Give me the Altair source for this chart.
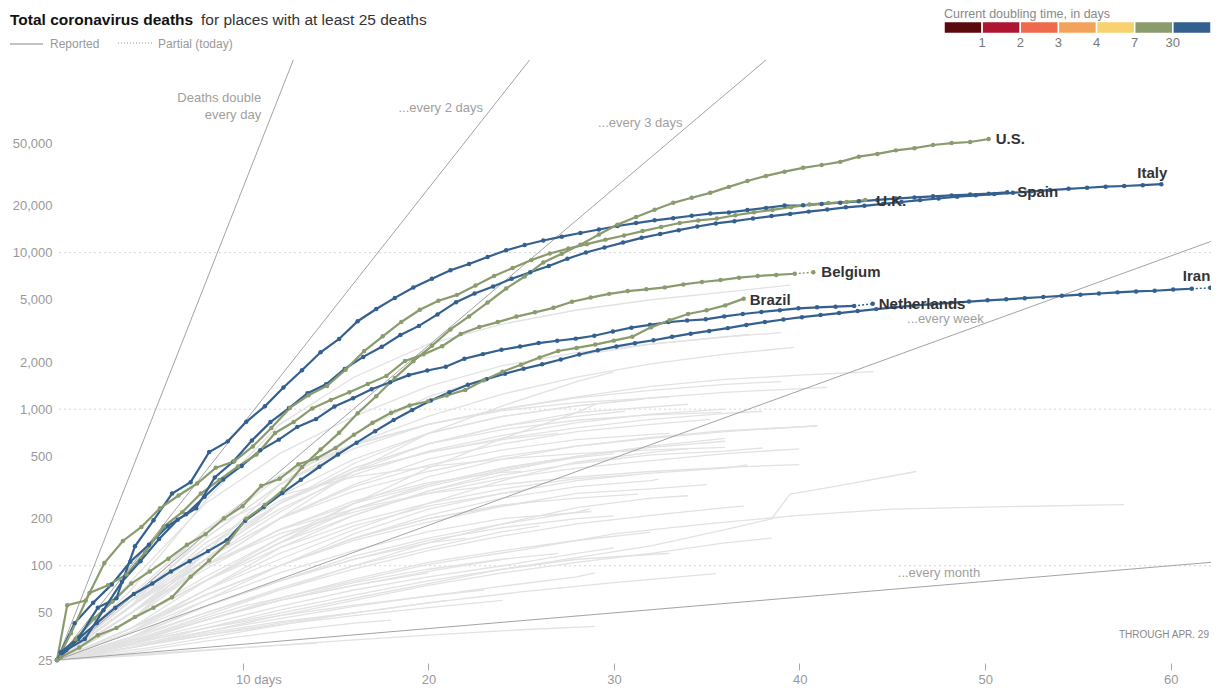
import math
from bisect import bisect_right
import altair as alt
import pandas as pd

FONT = "Liberation Sans"

# ---------------- highlighted places (cumulative deaths, one value per day) -------------
US = [26, 30, 36, 40, 47, 54, 63, 85, 108, 140, 200, 244, 307, 427, 552, 706, 942, 1209,
      1581, 2026, 2540, 3230, 3910, 4800, 5900, 7040, 8650, 9850, 11250, 13050, 15100, 16900,
      18800, 20800, 22400, 24100, 26300, 28700, 30900, 32900, 34800, 36300, 38000, 41000,
      42700, 45000, 46500, 48700, 50100, 50900, 53200]
UK = [56, 60, 104, 144, 177, 233, 281, 335, 422, 465, 578, 759, 1019, 1228, 1408, 1789, 2352,
      2921, 3605, 4313, 4934, 5373, 6159, 7097, 7978, 8958, 9875, 10612, 11329, 12107, 12868,
      13729, 14576, 15464, 16060, 16509, 17337, 18100, 18738, 19506, 20319, 20732, 21092, 21678]
SPAIN = [28, 35, 54, 62, 133, 195, 289, 342, 533, 623, 830, 1043, 1375, 1772, 2311, 2808, 3647,
         4365, 5138, 5982, 6803, 7716, 8464, 9387, 10348, 11198, 11947, 12641, 13341, 14045,
         14792, 15447, 16081, 16606, 17209, 17756, 18056, 18708, 19315, 20002, 20043, 20453,
         20852, 21282, 21717, 22157, 22524, 22902, 23190, 23521, 23822, 24275]
ITALY = [29, 34, 52, 79, 107, 148, 197, 233, 366, 463, 631, 827, 1016, 1266, 1441, 1809, 2158,
         2503, 2978, 3405, 4032, 4825, 5476, 6077, 6820, 7503, 8215, 9134, 10023, 10779, 11591,
         12428, 13155, 13915, 14681, 15362, 15887, 16523, 17127, 17669, 18279, 18849, 19468,
         19899, 20465, 21067, 21645, 22170, 22745, 23227, 23660, 24114, 24648, 25085, 25549,
         25969, 26384, 26644, 26977, 27359]
NETHERLANDS = [43, 58, 76, 106, 136, 179, 213, 276, 356, 434, 546, 639, 771, 864, 1039, 1173,
               1339, 1487, 1651, 1766, 1867, 2101, 2248, 2396, 2511, 2643, 2737, 2823, 2945,
               3134, 3315, 3459, 3601, 3684, 3751, 3916, 4054, 4177, 4289, 4409, 4475, 4518,
               4566, 4711]
IRAN = [26, 34, 43, 54, 66, 77, 92, 107, 124, 145, 194, 237, 291, 354, 429, 514, 611, 724, 853,
        988, 1135, 1284, 1433, 1556, 1685, 1812, 1934, 2077, 2234, 2378, 2517, 2640, 2757, 2898,
        3036, 3160, 3294, 3452, 3603, 3739, 3872, 3993, 4110, 4232, 4357, 4474, 4585, 4683,
        4777, 4869, 4958, 5031, 5118, 5209, 5297, 5391, 5481, 5574, 5650, 5710, 5806, 5877, 5957]
BELGIUM = [37, 67, 75, 88, 122, 178, 220, 289, 353, 431, 513, 705, 828, 1011, 1143, 1283, 1447,
           1632, 2035, 2240, 2523, 3019, 3346, 3600, 3903, 4157, 4440, 4857, 5163, 5453, 5683,
           5828, 5998, 6262, 6490, 6679, 6917, 7094, 7207, 7331, 7501]
BRAZIL = [25, 34, 46, 59, 77, 92, 111, 136, 159, 201, 240, 324, 359, 445, 486, 564, 686, 819,
          950, 1057, 1124, 1223, 1328, 1532, 1736, 1924, 2141, 2354, 2462, 2587, 2741, 2906, 3331,
          3704, 4057, 4286, 4603, 5083]

NAMES = ["Iran", "Netherlands", "Brazil", "Belgium", "Italy", "Spain", "U.K.", "U.S."]
SERIES = [IRAN, NETHERLANDS, BRAZIL, BELGIUM, ITALY, SPAIN, UK, US]
START_DAY = [0.14, 0.95, 0.0, 0.75, 0.5, 0.2, 0.55, 0.2]      # day of first value (25-death crossing = day 0)
DOUBLING = [50, 35, 9, 25, 60, 50, 18, 20]                    # current doubling time, days
PARTIAL = [True, True, False, True, False, False, False, False]

# label placement: dx, dy, align
LABELS = {"U.S.": (7, 0, "left"), "Italy": (6, -11, "right"), "Spain": (10, 0, "left"),
          "U.K.": (11, 1, "left"), "Belgium": (8, 0, "left"), "Brazil": (6, 1, "left"),
          "Netherlands": (6, 0, "left"), "Iran": (0, -12, "right")}

# ---------------- other places (grey background lines): days, values -------------------
GRAY = {
    "g01": ([0, 4, 8, 12, 16, 20, 24, 28, 32, 36, 39.5], [25, 70, 260, 800, 1600, 2600, 3500, 4300, 5000, 5600, 6200]),
    "g02": ([0, 4, 8, 12, 16, 20, 24, 28, 32, 37.3], [25, 45, 120, 330, 700, 1200, 1700, 2200, 2600, 3000]),
    "g03": ([0, 4, 8, 12, 16, 20, 24, 28, 32, 36, 39.7], [25, 60, 150, 330, 600, 900, 1250, 1600, 1950, 2250, 2480]),
    "g04": ([0, 4, 8, 12, 16, 20, 24, 28, 32, 36, 41.5], [25, 50, 110, 250, 450, 700, 900, 1050, 1180, 1280, 1380]),
    "g05": ([0, 4, 8, 12, 16, 20, 24, 28, 32, 35.8], [25, 45, 110, 250, 420, 600, 740, 850, 920, 955]),
    "g06": ([0, 4, 8, 12, 16, 20, 24, 28, 32, 36, 40.9], [25, 40, 80, 150, 250, 370, 480, 580, 660, 730, 780]),
    "g07": ([0, 4, 8, 12, 16, 20, 24, 28, 32, 36, 38], [25, 38, 70, 130, 210, 300, 380, 450, 510, 540, 565]),
    "g08": ([0, 4, 8, 12, 16, 20, 24, 28, 32, 36, 37.2], [25, 35, 60, 100, 160, 230, 290, 350, 390, 420, 440]),
    "g09": ([0, 8, 16, 24, 32, 36, 38.5, 39.5, 42, 46.3], [25, 40, 62, 95, 134, 170, 199, 287, 323, 400]),
    "g10": ([0, 5, 10, 15, 20, 25, 30, 35, 40, 45, 50, 57.5], [25, 36, 55, 75, 102, 126, 160, 185, 210, 230, 237, 246]),
    "g11": ([0, 4, 8, 12, 16, 20, 24, 28, 31.3], [25, 40, 65, 100, 150, 200, 245, 270, 287]),
    "g12": ([0, 4, 8, 12, 16, 20, 24, 28.8], [25, 38, 60, 90, 125, 165, 200, 222]),
    "g13": ([0, 4, 8, 12, 16, 20, 24, 28, 30], [25, 35, 55, 80, 110, 145, 175, 200, 208]),
    "g14": ([0, 4, 8, 12, 16, 20, 24, 28, 32], [25, 32, 45, 62, 82, 105, 125, 145, 164]),
    "g15": ([0, 5, 10, 15, 20, 25, 30, 35.5], [25, 30, 38, 48, 58, 68, 78, 89]),
    "g16": ([0, 5, 10, 15, 20, 25, 29], [25, 27, 30, 33, 36, 39, 41]),
    "g17": ([0, 4, 8, 12, 16, 20, 24, 28, 33], [25, 60, 170, 380, 600, 800, 980, 1100, 1200]),
    "g18": ([0, 4, 8, 12, 16, 20, 24, 28, 34], [25, 50, 110, 220, 400, 600, 780, 950, 1075]),
    "g19": ([0, 4, 8, 12, 16, 20, 24, 28, 30], [25, 50, 100, 200, 400, 700, 1050, 1500, 1730]),
    "g20": ([0, 4, 8, 12, 16, 20, 24, 28, 29], [25, 45, 80, 140, 250, 420, 650, 950, 1073]),
    "g21": ([0, 4, 8, 12, 16, 20, 24, 28, 32, 36, 39], [25, 80, 250, 520, 900, 1400, 1900, 2300, 2600, 2900, 3080]),
    "g22": ([0, 4, 8, 12, 16, 20, 24, 28, 32, 36, 40, 44], [25, 56, 160, 370, 590, 800, 1000, 1200, 1400, 1550, 1650, 1740]),
    "g23": ([0, 4, 8, 12, 16, 20, 24, 28, 32, 36, 38], [25, 55, 140, 260, 400, 530, 650, 760, 860, 940, 970]),
    "g24": ([0, 4, 8, 12, 16, 20, 24, 28, 32, 36, 40, 41], [25, 50, 110, 200, 300, 400, 500, 580, 650, 720, 770, 784]),
    "g25": ([0, 4, 8, 12, 16, 20, 24, 28, 32, 36], [25, 50, 100, 170, 250, 330, 420, 500, 580, 650]),
    "g26": ([0, 4, 8, 12, 16, 20, 24, 28, 32, 36], [25, 65, 170, 280, 370, 430, 480, 520, 550, 570]),
    "g27": ([0, 4, 8, 12, 16, 20, 24, 28, 32, 36, 40], [25, 50, 100, 170, 230, 290, 330, 370, 400, 425, 443]),
    "g28": ([0, 4, 8, 12, 16, 20, 24, 28, 32, 36, 40], [25, 60, 100, 160, 220, 290, 360, 420, 470, 520, 558]),
    "g29": ([0, 4, 8, 12, 16, 20, 24, 28, 32, 36], [25, 45, 80, 140, 210, 300, 400, 500, 570, 624]),
    "g30": ([0, 4, 8, 12, 16, 20, 24, 28, 32, 34], [25, 40, 70, 110, 170, 250, 350, 460, 530, 560]),
    "g31": ([0, 4, 8, 12, 16, 20, 24, 27], [25, 45, 80, 140, 230, 330, 420, 480]),
    "g32": ([0, 4, 8, 12, 16, 20, 24, 25], [25, 40, 70, 120, 180, 240, 290, 300]),
    "g33": ([0, 4, 8, 12, 16, 20, 22], [25, 35, 55, 80, 110, 140, 150]),
    "g34": ([0, 4, 8, 12, 16, 20], [25, 33, 45, 60, 75, 90]),
    "g35": ([0, 4, 8, 12, 16, 18], [25, 28, 33, 38, 43, 45]),
    "g36": ([0, 4, 8, 12, 14], [25, 27, 29, 31, 32]),
    "g37": ([0, 4, 8, 12, 16, 20, 24], [25, 30, 36, 42, 48, 54, 60]),
    "g38": ([0, 4, 8, 12, 16, 20, 24, 27], [25, 33, 45, 60, 78, 95, 110, 120]),
    "g39": ([0, 4, 8, 12, 16, 20, 24, 28, 31], [25, 45, 80, 130, 190, 250, 310, 360, 380]),
    "g40": ([0, 4, 8, 12, 16, 20, 24, 28, 32, 33], [25, 55, 110, 200, 320, 440, 550, 640, 690, 700]),
    "g41": ([0, 4, 8, 12, 16, 20, 24, 26], [25, 40, 65, 100, 150, 200, 240, 260]),
    "g42": ([0, 4, 8, 12, 16, 20, 24, 28, 30], [25, 32, 42, 55, 70, 85, 100, 120, 130]),
    "g43": ([0, 4, 8, 12, 16, 20, 23], [25, 32, 40, 48, 56, 64, 70]),
    "g44": ([0, 4, 8, 12, 16, 20, 24, 28, 32, 36, 37], [25, 35, 50, 70, 95, 125, 155, 185, 210, 235, 240]),
    "g45": ([0, 4, 8, 12, 16, 20, 24, 28, 32, 35], [25, 40, 65, 100, 145, 190, 240, 290, 310, 330]),
    "g46": ([0, 4, 8, 12, 16, 20, 24, 28, 29], [25, 31, 38, 46, 55, 64, 74, 85, 90]),
    "g47": ([0, 4, 8, 12, 16, 20, 24, 28, 31.6], [25, 55, 130, 280, 480, 700, 900, 1050, 1160]),
    "g48": ([0, 4, 8, 12, 16, 20, 24, 28, 30.6], [25, 50, 120, 250, 420, 600, 780, 900, 970]),
    "g49": ([0, 4, 8, 12, 16, 20, 24, 28, 32, 35.2], [25, 45, 100, 200, 330, 480, 600, 720, 800, 860]),
    "g50": ([0, 4, 8, 12, 16, 20, 24, 28, 32, 32.4], [25, 38, 65, 100, 150, 210, 270, 320, 350, 358]),
    "g51": ([0, 4, 8, 12, 16, 20, 24, 28, 28.7], [25, 35, 55, 80, 115, 150, 185, 220, 230]),
    "g52": ([0, 4, 8, 12, 16, 20, 24, 28, 32, 34], [25, 33, 48, 70, 100, 140, 185, 235, 270, 280]),
    "g53": ([0, 4, 8, 12, 16, 20, 24, 26], [25, 34, 50, 72, 100, 130, 165, 180]),
    "g54": ([0, 4, 8, 12, 16, 20, 24, 28, 32, 33], [25, 30, 40, 52, 65, 80, 95, 110, 118, 120]),
    "g55": ([0, 4, 8, 12, 16, 20, 24, 28, 32, 36, 38.5], [25, 30, 38, 48, 60, 75, 90, 105, 120, 140, 150]),
    "g56": ([0, 4, 8, 12, 16, 20, 24], [25, 32, 45, 60, 75, 92, 110]),
    "g57": ([0, 4, 8, 12, 16, 20, 21], [25, 30, 36, 43, 50, 58, 60]),
    "g58": ([0, 4, 8, 12, 16, 20, 24, 28, 30], [25, 45, 85, 150, 230, 320, 410, 490, 520]),
    "g59": ([0, 4, 8, 12, 16, 20, 24, 28, 32, 36], [25, 55, 120, 230, 380, 540, 680, 820, 930, 1000]),
    "g60": ([0, 4, 8, 12, 16, 20, 24, 27], [25, 60, 130, 250, 400, 530, 640, 700]),
    "g61": ([0, 4, 8, 12, 16], [25, 30, 37, 44, 50]),
    "g62": ([0, 4, 8, 12, 16, 20, 24, 28, 32, 36, 39], [25, 60, 150, 330, 560, 800, 1000, 1180, 1320, 1440, 1500]),
    "g63": ([0, 4, 8, 12, 16, 20, 24, 25], [25, 50, 95, 170, 260, 340, 395, 400]),
}

# ---------------- scales, guides --------------------------------------------------------
PLOT_W, PLOT_H = 1154, 600
X_MAX = PLOT_W / 18.56            # about 18.56 px per day, as in the original
Y_MIN, Y_MAX = 25, 170000
Y_TICKS = [25, 50, 100, 200, 500, 1000, 2000, 5000, 10000, 20000, 50000]
X_TICKS = [10, 20, 30, 40, 50, 60]
GRID_VALUES = [100, 1000, 10000]
DOUBLING_REF = [1, 2, 3, 7, 30]
LEGEND_BREAKS = [1, 2, 3, 4, 7, 30]
LEGEND_COLORS = ["#5a0a0c", "#ad1530", "#ee6a4b", "#f3a25b", "#f7d26f", "#8a9b6e", "#33608f"]

ANNOT_RIGHT = pd.DataFrame({
    "day": [11.0, 11.0, 22.95, 33.7],
    "value": [97000, 75500, 84000, 67300],
    "txt": ["Deaths double", "every day", "...every 2 days", "...every 3 days"],
})
ANNOT_LEFT = pd.DataFrame({
    "day": [45.8, 45.3],
    "value": [3780, 90],
    "txt": ["...every week", "...every month"],
})

# ---------------- build tables ----------------------------------------------------------
hl_rows, solid_rows, part_rows, last_rows = [], [], [], []
for name, ser, st, dbl, par in zip(NAMES, SERIES, START_DAY, DOUBLING, PARTIAL):
    b = bisect_right(LEGEND_BREAKS, dbl)          # colour class of the doubling time
    pts = []
    if st > 0:
        pts.append((0.0, 25))
    pts += [(st + i, v) for i, v in enumerate(ser)]
    for d, v in pts:
        hl_rows.append({"place": name, "day": d, "value": v, "cls": b})
    solid = pts[:-1] if par else pts
    for d, v in solid:
        solid_rows.append({"place": name, "day": d, "value": v, "cls": b})
    if par:
        for d, v in pts[-2:]:
            part_rows.append({"place": name, "day": d, "value": v, "cls": b})
    last_rows.append({"place": name, "day": pts[-1][0], "value": pts[-1][1]})
df_pts = pd.DataFrame(hl_rows)
df_solid = pd.DataFrame(solid_rows)
df_part = pd.DataFrame(part_rows)
df_last = pd.DataFrame(last_rows)

gray_rows = []
for g, (days, vals) in GRAY.items():
    for d, v in zip(days, vals):
        gray_rows.append({"place": g, "day": d, "value": v})
df_gray = pd.DataFrame(gray_rows)

ref_rows = []
for d in DOUBLING_REF:
    x_end = min(X_MAX, d * math.log2(Y_MAX / 25))
    ref_rows.append({"ref": d, "day": 0.0, "value": 25.0})
    ref_rows.append({"ref": d, "day": x_end, "value": 25.0 * 2 ** (x_end / d)})
df_ref = pd.DataFrame(ref_rows)
df_grid = pd.DataFrame({"value": GRID_VALUES})

# ---------------- encodings ------------------------------------------------------------
xs = alt.Scale(domain=[0, X_MAX], nice=False, zero=False)
ys = alt.Scale(type="log", domain=[Y_MIN, Y_MAX], nice=False)
x_axis = alt.Axis(values=X_TICKS, title=None, grid=False, domain=False, tickSize=7,
                  tickColor="#aaa", labelColor="#999", labelFontSize=13, labelFont=FONT,
                  labelAlign="left", labelOffset=-7, offset=3, labelPadding=3,
                  labelExpr="datum.value == 10 ? '10 days' : datum.label")
y_axis = alt.Axis(values=Y_TICKS, format=",", title=None, grid=False, domain=False,
                  ticks=False, labelColor="#999", labelFontSize=13, labelFont=FONT,
                  labelPadding=5)
X = alt.X("day:Q", scale=xs, axis=x_axis)
Y = alt.Y("value:Q", scale=ys, axis=y_axis)
break_labels = "[" + ",".join("'%s'" % b for b in LEGEND_BREAKS) + "]"
COLOR = alt.Color(
    "cls:Q",
    scale=alt.Scale(type="threshold", domain=list(range(1, len(LEGEND_BREAKS) + 1)),
                    range=LEGEND_COLORS),
    legend=alt.Legend(title="Current doubling time, in days", type="gradient",
                      orient="none", legendX=887, legendY=-52,
                      direction="horizontal", gradientLength=267,
                      gradientThickness=12, gradientStrokeWidth=1.5,
                      gradientStrokeColor="white",
                      titleFontSize=12.5, titleFontWeight="normal",
                      titleColor="#888", titleFont=FONT, titlePadding=1,
                      labelFontSize=13, labelColor="#777", labelFont=FONT,
                      labelOffset=3,
                      labelExpr="datum.value >= 1 && datum.value <= %d ? %s[datum.value - 1] : ''"
                                % (len(LEGEND_BREAKS), break_labels)))

grid = alt.Chart(df_grid).mark_rule(color="#d6d6d6", strokeDash=[2, 3], strokeWidth=1).encode(y=Y)
gray = alt.Chart(df_gray).mark_line(color="#e2e2e2", strokeWidth=1.3).encode(
    x=X, y=Y, detail="place:N")
refs = alt.Chart(df_ref).mark_line(color="#a3a3a3", strokeWidth=1).encode(
    x=X, y=Y, detail="ref:N")
lines = alt.Chart(df_solid).mark_line(strokeWidth=2.2, strokeCap="round").encode(
    x=X, y=Y, color=COLOR, detail="place:N")
partial = alt.Chart(df_part).mark_line(strokeWidth=1.4, strokeDash=[2, 2]).encode(
    x=X, y=Y, color=COLOR, detail="place:N")
dots = alt.Chart(df_pts).mark_circle(size=20, opacity=1).encode(x=X, y=Y, color=COLOR)

ann_r = alt.Chart(ANNOT_RIGHT).mark_text(align="right", baseline="middle", fontSize=13,
                                         color="#a0a0a0", font=FONT).encode(x=X, y=Y, text="txt:N")
ann_l = alt.Chart(ANNOT_LEFT).mark_text(align="left", baseline="middle", fontSize=13,
                                        color="#a0a0a0", font=FONT).encode(x=X, y=Y, text="txt:N")

label_layers = []
for name, (dx, dy, al) in LABELS.items():
    label_layers.append(
        alt.Chart(df_last[df_last.place == name]).mark_text(
            align=al, baseline="middle", dx=dx, dy=dy, fontSize=15, fontWeight="bold",
            color="#333333", font=FONT).encode(x=X, y=Y, text="place:N"))

one = pd.DataFrame({"t": ["Total coronavirus deaths"]})
title_b = alt.Chart(one).mark_text(align="left", baseline="middle", fontSize=15.5,
                                   fontWeight="bold", color="#121212", font=FONT).encode(
    x=alt.value(-47), y=alt.value(-40), text="t:N")
title_n = alt.Chart(pd.DataFrame({"t": ["for places with at least 25 deaths"]})).mark_text(
    align="left", baseline="middle", fontSize=15.5, color="#333", font=FONT).encode(
    x=alt.value(144), y=alt.value(-40), text="t:N")
rep_rule = alt.Chart(one).mark_rule(color="#888", strokeWidth=1.2).encode(
    x=alt.value(-47), x2=alt.value(-14), y=alt.value(-16))
rep_txt = alt.Chart(pd.DataFrame({"t": ["Reported"]})).mark_text(
    align="left", baseline="middle", fontSize=12, color="#999", font=FONT).encode(
    x=alt.value(-7), y=alt.value(-16), text="t:N")
par_rule = alt.Chart(one).mark_rule(color="#999", strokeWidth=1.2, strokeDash=[1, 2]).encode(
    x=alt.value(61), x2=alt.value(95), y=alt.value(-17))
par_txt = alt.Chart(pd.DataFrame({"t": ["Partial (today)"]})).mark_text(
    align="left", baseline="middle", fontSize=12, color="#999", font=FONT).encode(
    x=alt.value(101), y=alt.value(-16), text="t:N")
through = alt.Chart(pd.DataFrame({"t": ["THROUGH APR. 29"]})).mark_text(
    align="right", baseline="middle", fontSize=10, color="#888", font=FONT).encode(
    x=alt.value(1152), y=alt.value(575), text="t:N")

chart = alt.layer(
    grid, gray, refs, lines, partial, dots, ann_r, ann_l, *label_layers,
    title_b, title_n, rep_rule, rep_txt, par_rule, par_txt, through
).properties(
    width=PLOT_W, height=PLOT_H,
    padding={"left": 49, "top": 52, "right": 0, "bottom": 28},
    autosize=alt.AutoSizeParams(type="none"),
    background="white",
).configure_view(stroke=None)

chart.save("out.html", embed_options={"renderer": "svg", "actions": False})
